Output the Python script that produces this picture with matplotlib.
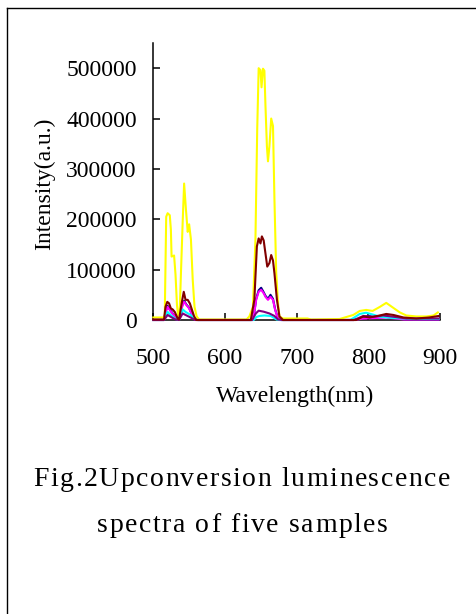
import matplotlib
matplotlib.use("Agg")
import matplotlib.pyplot as plt
from matplotlib.lines import Line2D

plt.rcParams['font.family'] = ['Liberation Serif', 'DejaVu Serif']

# spectra (wavelength nm, intensity a.u.)
navy_wl = [500, 515, 517, 520, 523, 527, 531, 536, 539, 541, 543, 546, 550, 554, 558, 562,
           638, 641, 643.5, 647, 650.5, 654, 656.5, 660, 663.5, 667, 670, 674, 678,
           780, 793, 800, 810, 825, 850, 898]
navy_int = [0, 0, 16000, 28000, 21000, 13000, 7000, 1000, 21000, 32000, 38000, 31000, 24000, 11000, 1000, 0,
            0, 16000, 42000, 59000, 64000, 55000, 48000, 42000, 50000, 42000, 21000, 3000, 0,
            0, 5000, 8000, 5000, 6000, 1500, 1000]

magenta_wl = [500, 515, 517, 520, 523, 527, 531, 536, 539, 541, 543, 546, 550, 554, 558, 562,
              638, 641, 643.5, 647, 650.5, 654, 656.5, 660, 663.5, 667, 670, 674, 678,
              780, 793, 810, 825, 850, 898]
magenta_int = [0, 0, 15000, 26000, 20000, 12000, 7000, 1000, 20000, 30000, 36000, 30000, 23000, 10000, 1000, 0,
               0, 15000, 40000, 56000, 60000, 53000, 46000, 40000, 46000, 40000, 20000, 3000, 0,
               0, 3000, 4000, 5000, 1000, 1000]

yellow_wl = [500, 515, 516, 518, 520, 523, 524.5, 525.5, 529, 531, 533, 535, 536.5, 538.5, 541, 543,
             545.5, 548, 550, 552.5, 555, 557.5, 560.5, 564, 600, 630, 634, 639, 642.5, 645, 647,
             649.5, 651, 653, 655, 656.5, 658.5, 660, 662, 664.5, 667, 669, 671.5, 674, 676, 681,
             715, 720, 760, 779, 788, 797, 806, 816, 825, 832, 844, 853, 867, 881, 891, 897]
yellow_int = [5000, 5000, 10000, 205000, 212000, 208000, 180000, 126000, 128000, 90000, 30000, 5000, 2000,
              90000, 195000, 271000, 220000, 175000, 190000, 160000, 80000, 26000, 7000, 1000, 1000, 1000,
              7000, 26000, 160000, 380000, 500000, 496000, 462000, 499000, 495000, 425000, 345000, 315000,
              345000, 400000, 385000, 240000, 93000, 33000, 7000, 3000, 3000, 1000, 2000, 10000, 18000,
              20000, 18000, 26000, 34000, 27000, 15000, 9000, 7000, 7000, 9000, 15000]

cyan_wl = [500, 515, 518, 520, 524, 531, 536, 539, 541, 545, 552, 558, 562,
           640, 644, 648, 655, 664, 672, 676, 775, 788, 797, 807, 816, 835, 863, 898]
cyan_int = [0, 0, 10000, 16000, 10000, 2000, 0, 12000, 21000, 16000, 10000, 1000, 0,
            0, 6000, 8000, 9000, 8000, 1000, 0, 0, 12000, 14500, 10500, 6500, 4000, 2000, 2000]

purple_wl = [500, 515, 518, 520, 524, 531, 536, 539, 541, 545, 552, 558,
             638, 643, 647, 654, 662, 669, 674, 680, 780, 793, 807, 821, 835, 853, 898]
purple_int = [0, 0, 6000, 10000, 6500, 1000, 0, 8000, 13000, 10000, 5000, 0,
              0, 13000, 18500, 16500, 13000, 8000, 1000, 0, 0, 8000, 6500, 9000, 6500, 3000, 3000]

maroon_wl = [500, 515, 517, 519.5, 522, 524.5, 527, 530, 534, 536, 539.5, 542.5, 545, 548, 551, 554,
             557, 560, 636, 641, 644.5, 647, 649.5, 651.5, 654, 656.5, 659, 662, 664.5, 667, 669,
             672.5, 676, 681, 783, 793, 802, 816, 825, 835, 849, 867, 885, 898]
maroon_int = [1000, 1000, 26000, 36000, 33000, 23000, 21000, 16000, 3000, 1000, 33000, 56000, 40000,
              40000, 33000, 20000, 7000, 0, 0, 40000, 146000, 162000, 152000, 166000, 158000, 132000,
              106000, 113000, 129000, 118000, 93000, 40000, 7000, 0, 0, 7000, 5000, 9000, 12000, 10000,
              5000, 3000, 5000, 8000]

series = [
    (navy_wl, navy_int, '#000080'),
    (magenta_wl, magenta_int, '#FF00FF'),
    (yellow_wl, yellow_int, '#FFFF00'),
    (cyan_wl, cyan_int, '#00FFFF'),
    (purple_wl, purple_int, '#800080'),
    (maroon_wl, maroon_int, '#800000'),
]

x_ticks = [500, 600, 700, 800, 900]
y_ticks = [0, 100000, 200000, 300000, 400000, 500000]
y_tick_labels = ['0', '100000', '200000', '300000', '400000', '500000']

W, H = 476, 614
fig = plt.figure(figsize=(W / 100, H / 100), dpi=100)
ax = fig.add_axes([153.3 / W, 1 - 320 / H, 286.7 / W, 277 / H])

for wl, inten, col in series:
    ax.plot(wl, inten, color=col, lw=1.5, clip_on=False, zorder=3)

ax.set_xlim(500, 900)
ax.set_ylim(0, 550000)
ax.set_xticks(x_ticks)
ax.set_xticklabels([str(v) for v in x_ticks])
ax.set_yticks(y_ticks)
ax.set_yticklabels(y_tick_labels)

for s in ('top', 'right'):
    ax.spines[s].set_visible(False)
for s in ('left', 'bottom'):
    ax.spines[s].set_linewidth(1.1)
    ax.spines[s].set_color('black')

ax.tick_params(direction='in', length=5, width=1.1, labelsize=17, colors='black')
ax.tick_params(axis='x', pad=20.5)
ax.tick_params(axis='y', pad=12)

ax.set_xlabel('Wavelength(nm)', fontsize=17)
ax.xaxis.set_label_coords(0.496, (320 - 396) / 277)
ax.xaxis.label.set_va('center')
ax.set_ylabel('Intensity(a.u.)', fontsize=17)
ax.yaxis.set_label_coords((45 - 153.3) / 286.7, (320 - 183.5) / 277)
ax.yaxis.label.set_va('center')


def spaced_caption(text, xc, baseline, size, target_w):
    r = fig.canvas.get_renderer()
    probe = fig.text(0, 0, '|', fontsize=size)
    bar = probe.get_window_extent(r).width

    def width(t):
        probe.set_text(t + '|')
        return probe.get_window_extent(r).width - bar

    adv = [width(text[:i]) for i in range(len(text) + 1)]
    probe.remove()
    gap = (target_w - adv[-1]) / (len(text) - 1)
    x0 = xc - target_w / 2
    for i, ch in enumerate(text):
        if ch == ' ':
            continue
        fig.text((x0 + adv[i] + i * gap) / W, 1 - baseline / H, ch,
                 fontsize=size, ha='left', va='baseline')


spaced_caption('Fig.2Upconversion luminescence', 241.5, 486.5, 20, 417)
spaced_caption('spectra of five samples', 242.5, 531.5, 20, 291)

# page frame (top and left edges visible)
fig.add_artist(Line2D([6.5 / W, 1], [1 - 7.5 / H, 1 - 7.5 / H], color='black', lw=1.0))
fig.add_artist(Line2D([6.5 / W, 6.5 / W], [0, 1 - 7.5 / H], color='black', lw=1.0))

fig.savefig('out.png', dpi=100)
